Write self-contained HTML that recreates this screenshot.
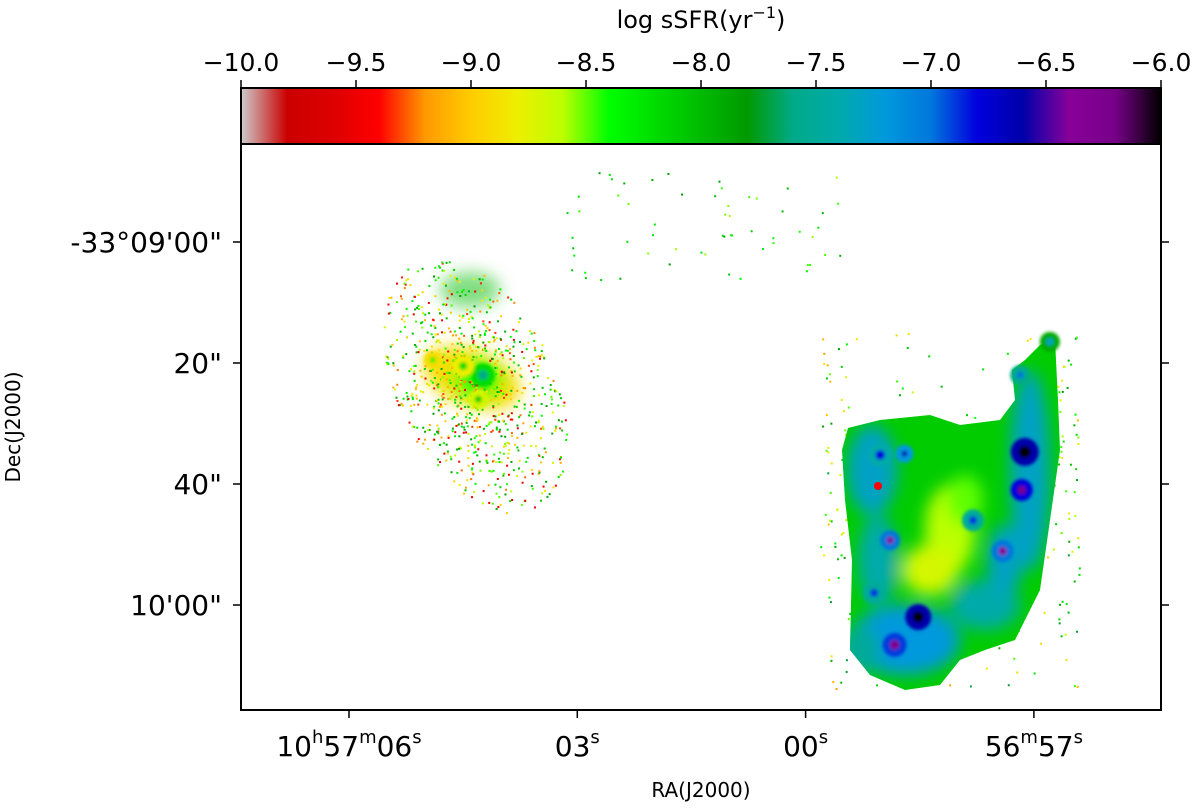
<!DOCTYPE html>
<html><head><meta charset="utf-8"><style>
body{margin:0;background:#fff;width:1200px;height:804px;overflow:hidden;font-family:"Liberation Sans","DejaVu Sans",sans-serif}
svg text{font-family:"DejaVu Sans","Liberation Sans",sans-serif;fill:#000}
</style></head><body>
<svg id="c" width="1200" height="804">
<defs>
<linearGradient id="cmap" x1="0" x2="1" y1="0" y2="0">
<stop offset="0" stop-color="#ccc"/><stop offset="0.05" stop-color="#c00"/><stop offset="0.10" stop-color="#d00"/>
<stop offset="0.15" stop-color="#f00"/><stop offset="0.20" stop-color="#f90"/><stop offset="0.25" stop-color="#fc0"/>
<stop offset="0.30" stop-color="#ee0"/><stop offset="0.35" stop-color="#bf0"/><stop offset="0.40" stop-color="#0f0"/>
<stop offset="0.45" stop-color="#0d0"/><stop offset="0.50" stop-color="#0b0"/><stop offset="0.55" stop-color="#090"/>
<stop offset="0.60" stop-color="#0a8"/><stop offset="0.65" stop-color="#0aa"/><stop offset="0.70" stop-color="#09d"/>
<stop offset="0.75" stop-color="#07d"/><stop offset="0.80" stop-color="#00d"/><stop offset="0.85" stop-color="#00a"/>
<stop offset="0.90" stop-color="#809"/><stop offset="0.95" stop-color="#708"/><stop offset="1" stop-color="#000"/>
</linearGradient>
<filter id="bl" x="-50%" y="-50%" width="200%" height="200%"><feGaussianBlur stdDeviation="8"/></filter>
<filter id="bs" x="-50%" y="-50%" width="200%" height="200%"><feGaussianBlur stdDeviation="1.5"/></filter>
<clipPath id="gal"><path d="M848,428 L880,420 L930,415 L960,425 L1000,420 L1015,400 L1012,370 L1025,360 L1040,345 L1055,340 L1058,400 L1060,450 L1050,520 L1040,590 L1015,640 L985,650 L960,660 L940,685 L905,690 L870,675 L850,650 L852,560 L845,500 L842,450 Z"/></clipPath>
</defs>
<rect x="241" y="88" width="920" height="56" fill="url(#cmap)" stroke="#000" stroke-width="2"/>
<g id="cbt"></g>
<text x="701" y="28" font-size="24" text-anchor="middle">log sSFR(yr<tspan dy="-10" font-size="16">−1</tspan><tspan dy="10">)</tspan></text>
<g id="img"></g>
<rect x="241" y="144" width="920" height="566" fill="none" stroke="#000" stroke-width="2"/>
<g id="axes"></g>
<text x="701" y="797" font-size="20" text-anchor="middle">RA(J2000)</text>
<text transform="translate(20,427) rotate(-90)" font-size="20" text-anchor="middle">Dec(J2000)</text>
</svg>
<script>
const cbTicks=[-10,-9.5,-9,-8.5,-8,-7.5,-7,-6.5,-6];
const xTickSec=[6,3,0,-3];
const xTickLabels=[["10","h","57","m","06","s"],["03","s"],["00","s"],["56","m","57","s"]];
const yTickArc=[0,20,40,60];
const yTickLabels=['-33°09\'00"','20"','40"','10\'00"'];
// knots: RA seconds offset from 10h57m00s, Dec arcsec south of -33°09'00", log sSFR, size
const knotRA=[-2.88,-2.84,-1.48,-1.17,-1.11,-2.59,-0.98,-2.82,-3.21,-2.2,-0.9,-1.3,4.24,4.5,4.9,4.3];
const knotDec=[34.7,41.0,62.0,66.6,49.3,51.1,35.2,22.0,16.5,46,58,35,22.0,20.5,19.5,26];
const knotVal=[-6.0,-6.2,-6.0,-6.3,-6.4,-6.4,-6.8,-7.0,-7.3,-6.9,-6.9,-6.6,-7.6,-8.2,-8.3,-8.1];
const knotSize=[10,7,9,8,6,7,8,6,6,7,7,5,8,7,5,6];
const S='http://www.w3.org/2000/svg';
const xs=s=>349+(6-s)*76.1, ys=d=>242+d*6.05, cx=v=>241+(v+10)/4*920;
const stops=[[0,[204,204,204]],[.05,[204,0,0]],[.1,[221,0,0]],[.15,[255,0,0]],[.2,[255,153,0]],[.25,[255,204,0]],[.3,[238,238,0]],[.35,[187,255,0]],[.4,[0,255,0]],[.45,[0,221,0]],[.5,[0,187,0]],[.55,[0,153,0]],[.6,[0,170,136]],[.65,[0,170,170]],[.7,[0,153,221]],[.75,[0,119,221]],[.8,[0,0,221]],[.85,[0,0,170]],[.9,[136,0,153]],[.95,[119,0,136]],[1,[0,0,0]]];
function col(v){let t=Math.max(0,Math.min(1,(v+10)/4));for(let i=1;i<stops.length;i++){if(t<=stops[i][0]){const[a,ca]=stops[i-1],[b,cb]=stops[i];const f=(t-a)/(b-a);return 'rgb('+ca.map((c,k)=>Math.round(c+(cb[k]-c)*f)).join(',')+')';}}return '#000';}
function el(t,a,p){const e=document.createElementNS(S,t);for(const k in a)e.setAttribute(k,a[k]);p.appendChild(e);return e;}
const cbt=document.getElementById('cbt'),ax=document.getElementById('axes'),img=document.getElementById('img');
cbTicks.forEach(v=>{const l=el('line',{x1:cx(v),x2:cx(v),y1:80,y2:88,stroke:'#000','stroke-width':1.5},cbt);


const t=el('text',{x:cx(v),y:71,'font-size':25,'text-anchor':'middle'},cbt);t.textContent=(v<0?'−':'')+Math.abs(v).toFixed(1);

});
xTickSec.forEach((s,i)=>{const x=xs(s);el('line',{x1:x,x2:x,y1:710,y2:718,stroke:'#000','stroke-width':1.5},ax);
const t=el('text',{x:x,y:756,'font-size':28,'text-anchor':'middle'},ax);


xTickLabels[i].forEach((p,j)=>{const sp=el('tspan',j%2?{'font-size':18,dy:-13}:{'font-size':28,dy:j?13:0},t);sp.textContent=p;});});
yTickArc.forEach((d,i)=>{const y=ys(d);el('line',{x1:233,x2:241,y1:y,y2:y,stroke:'#000','stroke-width':1.5},ax);el('line',{x1:1161,x2:1169,y1:y,y2:y,stroke:'#000','stroke-width':1.5},ax);
const t=el('text',{x:222,y:y+10,'font-size':28,'text-anchor':'end'},ax);t.textContent=yTickLabels[i];

});
function h(n){let x=Math.sin(n*12.9898)*43758.5453;return x-Math.floor(x);}
// left galaxy core
const lc=el('g',{filter:'url(#bl)'},img);
el('ellipse',{cx:472,cy:378,rx:50,ry:28,fill:col(-8.9),transform:'rotate(20 472 378)'},lc);
el('ellipse',{cx:478,cy:380,rx:25,ry:20,fill:col(-8.4)},lc);
el('ellipse',{cx:470,cy:290,rx:30,ry:18,fill:col(-8.0),opacity:0.5},lc);
// speckles
const sp=el('g',{},img);
for(let i=0;i<1100;i++){const a=h(i)*6.283,r=Math.pow(h(i+5000),0.7)*100;const x=475+Math.cos(a)*r*0.9+Math.sin(a)*r*0.2,y=385+Math.sin(a)*r*1.25+Math.cos(a)*r*0.25;
if(h(i+333)<0.35&&r>60)continue;
const v=-9.6+h(i+9000)*1.8;el('rect',{x:x,y:y,width:2,height:2,fill:col(v)},sp);}
for(let i=0;i<140;i++){const x=560+h(i+1300)*280,y=170+h(i+1700)*110;if(h(i+21)<0.4)el('rect',{x:x,y:y,width:2,height:2,fill:col(-8.6+h(i+27)*0.8)},sp);}
for(let i=0;i<600;i++){const x=820+h(i+300)*260,y=330+h(i+700)*360;if(x>1058||x<850||h(i+11)<0.3)el('rect',{x:x,y:y,width:2,height:2,fill:col(-9.2+h(i+17)*1.5)},sp);}
// right galaxy body
const g=el('g',{'clip-path':'url(#gal)'},img);
el('rect',{x:830,y:330,width:240,height:370,fill:col(-8.1)},g);
const bb=el('g',{filter:'url(#bl)'},g);
[[872,470,25,45,-7.3],[1030,470,20,100,-7.3],[905,640,55,35,-7.2],[985,605,35,25,-7.4],[878,560,20,45,-7.4],[860,650,20,25,-7.5],[1005,560,18,35,-7.3],[950,530,25,45,-8.6],[930,570,28,25,-8.7],[965,500,18,25,-8.5]].forEach(b=>el('ellipse',{cx:b[0],cy:b[1],rx:b[2],ry:b[3],fill:col(b[4])},bb));
const kn=el('g',{filter:'url(#bs)'},img);
knotVal.forEach((v,i)=>{const x=xs(knotRA[i]),y=ys(knotDec[i]);
const ring=el('circle',{cx:x,cy:y,r:knotSize[i]+4,fill:col(v-0.6)},kn);


const k=el('circle',{cx:x,cy:y,r:knotSize[i]*0.6,fill:col(v)},kn);

});
el('circle',{cx:878,cy:486,r:4,fill:col(-9.4)},img);
</script>
</body></html>
